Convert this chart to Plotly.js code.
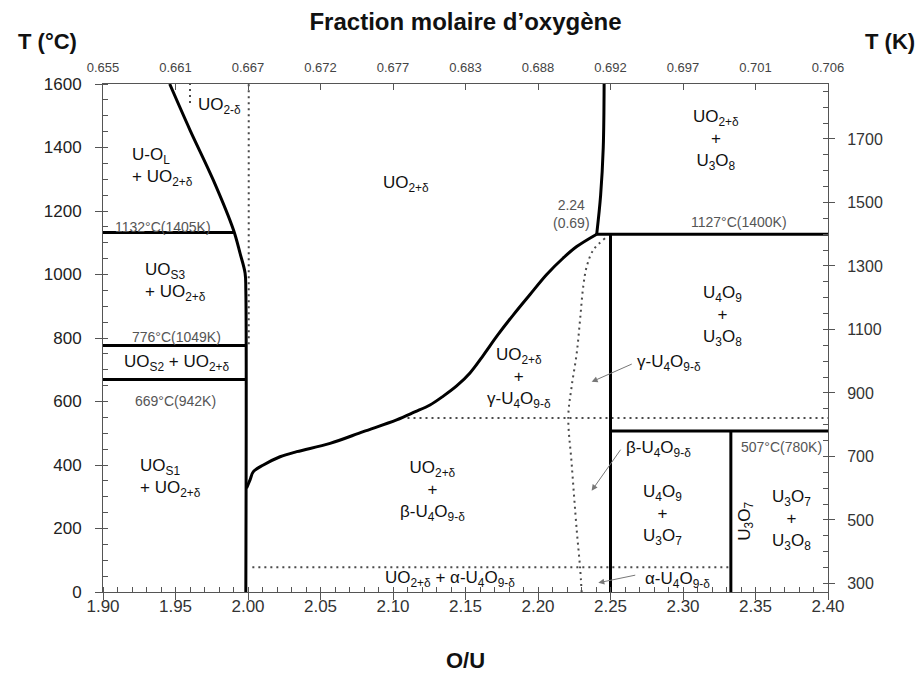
<!DOCTYPE html>
<html><head><meta charset="utf-8">
<script src="https://cdn.plot.ly/plotly-3.0.1.min.js"></script>
<style>html,body{margin:0;padding:0;background:#fff}</style>
</head><body><div id="chart" style="width:923px;height:673px"></div>
<script>
// ---------- DATA (O/U ratio vs temperature °C) ----------
const xTicks = [1.90, 1.95, 2.00, 2.05, 2.10, 2.15, 2.20, 2.25, 2.30, 2.35, 2.40];
const xTickText = ['1.90','1.95','2.00','2.05','2.10','2.15','2.20','2.25','2.30','2.35','2.40'];
const fracTickText = ['0.655','0.661','0.667','0.672','0.677','0.683','0.688','0.692','0.697','0.701','0.706'];
const kTicks = [300, 500, 700, 900, 1100, 1300, 1500, 1700];

// solid boundaries
const liquidusX = [1.946, 1.960, 1.976, 1.990, 1.9945, 1.998, 1.9985, 1.9985];
const liquidusT = [1600, 1455, 1298, 1140, 1067, 1004, 950, 0];
const uo2BoundX = [1.9990, 2.0014, 2.0037, 2.0106, 2.0221, 2.0336, 2.0566, 2.0795, 2.1025, 2.1150, 2.1255, 2.1347, 2.1439, 2.1531, 2.1625, 2.1720, 2.1830, 2.1945, 2.2060, 2.2174, 2.2267, 2.2405];
const uo2BoundT = [327, 353, 379, 400, 426, 442, 468, 505, 542, 567, 589, 617, 649, 690, 747, 808, 873, 937, 1000, 1052, 1088, 1127];
const upperBoundX = [2.2405, 2.2432, 2.2450, 2.2456];
const upperBoundT = [1127, 1250, 1400, 1600];
const line1132X = [1.90, 1.990];   const line1132T = [1132, 1132];
const line776X  = [1.90, 1.9985];  const line776T  = [776, 776];
const line669X  = [1.90, 1.9985];  const line669T  = [669, 669];
const line1127X = [2.2405, 2.40];  const line1127T = [1127, 1127];
const line507X  = [2.25, 2.40];    const line507T  = [507, 507];
const u4o9X = [2.25, 2.25];        const u4o9T = [0, 1127];
const u3o7X = [2.333, 2.333];      const u3o7T = [0, 507];

// dotted boundaries
const dotA_X = [1.960, 1.960];     const dotA_T = [1540, 1600];
const dotB_X = [2.0005, 2.0005];   const dotB_T = [780, 1600];
const dot548X = [2.11, 2.40];      const dot548T = [548, 548];
const dot78X = [2.003, 2.333];     const dot78T = [78, 78];
const u4o9LowX = [2.2462, 2.2381, 2.2336, 2.2312, 2.2290, 2.2267, 2.2232, 2.2209, 2.2232, 2.2267, 2.2290, 2.2301];
const u4o9LowT = [1114, 1077, 1025, 962, 857, 752, 647, 552, 405, 195, 78, 0];

// phase labels
const phaseText = [
  'UO<sub>2-δ</sub>',
  'UO<sub>2+δ</sub>',
  'UO<sub>S2</sub> + UO<sub>2+δ</sub>',
  'UO<sub>2+δ</sub><br>+<br>γ-U<sub>4</sub>O<sub>9-δ</sub>',
  'UO<sub>2+δ</sub><br>+<br>β-U<sub>4</sub>O<sub>9-δ</sub>',
  'UO<sub>2+δ</sub> + α-U<sub>4</sub>O<sub>9-δ</sub>',
  'γ-U<sub>4</sub>O<sub>9-δ</sub>',
  'β-U<sub>4</sub>O<sub>9-δ</sub>',
  'α-U<sub>4</sub>O<sub>9-δ</sub>',
  'UO<sub>2+δ</sub><br>+<br>U<sub>3</sub>O<sub>8</sub>',
  'U<sub>4</sub>O<sub>9</sub><br>+<br>U<sub>3</sub>O<sub>8</sub>',
  'U<sub>4</sub>O<sub>9</sub><br>+<br>U<sub>3</sub>O<sub>7</sub>',
  'U<sub>3</sub>O<sub>7</sub><br>+<br>U<sub>3</sub>O<sub>8</sub>'
];
const phaseX = [1.980, 2.109, 1.951, 2.187, 2.127, 2.139, 2.290, 2.283, 2.296, 2.323, 2.327, 2.286, 2.375];
const phaseT = [1530, 1285, 722, 674, 318, 41, 721, 450, 38, 1424, 869, 243, 227];

const leftText = ['U-O<sub>L</sub><br>+ UO<sub>2+δ</sub>', 'UO<sub>S3</sub><br>+ UO<sub>2+δ</sub>', 'UO<sub>S1</sub><br>+ UO<sub>2+δ</sub>'];
const leftX = [1.9186, 1.9276, 1.9241];
const leftT = [1339, 976, 359];

const rotText = ['U<sub>3</sub>O<sub>7</sub>'];
const rotX = [2.3433];
const rotT = [224];

const noteText = ['1132°C(1405K)', '776°C(1049K)', '669°C(942K)', '1127°C(1400K)', '507°C(780K)', '2.24<br>(0.69)'];
const noteX = [1.9416, 1.9508, 1.9497, 2.3386, 2.368, 2.2231];
const noteT = [1150, 802, 602, 1164, 458, 1190];

const arrowTailX = [2.2657, 2.2577, 2.2681];
const arrowTailT = [720, 453, 54];
const arrowHeadX = [2.2370, 2.2370, 2.2416];
const arrowHeadT = [662, 319, 29];

// ---------- DRAW ----------
const FONT = 'Liberation Sans, Arial, Helvetica, sans-serif';
function solid(x, y, shape) {
  return {x: x, y: y, mode: 'lines', line: {color: '#000', width: 3, shape: shape || 'linear', smoothing: 1}, hoverinfo: 'skip', showlegend: false};
}
function dotted(x, y, shape) {
  return {x: x, y: y, mode: 'lines', line: {color: '#4a4a4a', width: 2, dash: '2px,4px', shape: shape || 'linear', smoothing: 1}, hoverinfo: 'skip', showlegend: false};
}
const traces = [
  dotted(dotA_X, dotA_T), dotted(dotB_X, dotB_T), dotted(dot548X, dot548T), dotted(dot78X, dot78T),
  dotted(u4o9LowX, u4o9LowT, 'spline'),
  solid(liquidusX, liquidusT, 'spline'), solid(uo2BoundX, uo2BoundT, 'spline'), solid(upperBoundX, upperBoundT, 'spline'),
  solid(line1132X, line1132T), solid(line776X, line776T), solid(line669X, line669T),
  solid(line1127X, line1127T), solid(line507X, line507T), solid(u4o9X, u4o9T), solid(u3o7X, u3o7T),
  {x: [xTicks[0], xTicks[xTicks.length - 1]], y: [273.15, 1873.15], xaxis: 'x2', yaxis: 'y2', mode: 'markers', marker: {opacity: 0}, hoverinfo: 'skip', showlegend: false}
];

const annotations = [];
phaseText.forEach((t, i) => annotations.push({x: phaseX[i], y: phaseT[i], xref: 'x', yref: 'y', text: t, showarrow: false, font: {family: FONT, size: 17, color: '#111'}, align: 'center'}));
leftText.forEach((t, i) => annotations.push({x: leftX[i], y: leftT[i], xref: 'x', yref: 'y', text: t, showarrow: false, xanchor: 'left', align: 'left', font: {family: FONT, size: 17, color: '#111'}}));
rotText.forEach((t, i) => annotations.push({x: rotX[i], y: rotT[i], xref: 'x', yref: 'y', text: t, showarrow: false, textangle: -90, font: {family: FONT, size: 17, color: '#111'}}));
noteText.forEach((t, i) => annotations.push({x: noteX[i], y: noteT[i], xref: 'x', yref: 'y', text: t, showarrow: false, font: {family: FONT, size: 14, color: '#555'}}));
arrowHeadX.forEach((hx, i) => annotations.push({x: hx, y: arrowHeadT[i], ax: arrowTailX[i], ay: arrowTailT[i], xref: 'x', yref: 'y', axref: 'x', ayref: 'y', text: '', showarrow: true, arrowhead: 2, arrowsize: 1.2, arrowwidth: 1, arrowcolor: '#777'}));
annotations.push({x: -0.077, y: 1.083, xref: 'paper', yref: 'paper', xanchor: 'center', yanchor: 'middle', text: '<b>T (°C)</b>', showarrow: false, font: {family: FONT, size: 22, color: '#111'}});
annotations.push({x: 1.086, y: 1.083, xref: 'paper', yref: 'paper', xanchor: 'center', yanchor: 'middle', text: '<b>T (K)</b>', showarrow: false, font: {family: FONT, size: 22, color: '#111'}});

const axCommon = {showgrid: false, zeroline: false, showline: true, linecolor: '#555', linewidth: 1, tickcolor: '#555', tickwidth: 1};
const layout = {
  width: 923, height: 673,
  margin: {l: 103, r: 95, t: 84, b: 81},
  paper_bgcolor: '#fff', plot_bgcolor: '#fff',
  showlegend: false,
  font: {family: FONT},
  xaxis: Object.assign({}, axCommon, {
    range: [1.90, 2.40], tickmode: 'array', tickvals: xTicks, ticktext: xTickText,
    ticks: 'outside', ticklen: 7, ticklabelstandoff: -8,
    tickfont: {family: FONT, size: 17, color: '#333'},
    minor: {tickmode: 'linear', tick0: 1.90, dtick: 0.01, ticks: 'inside', ticklen: 5, tickcolor: '#555', showgrid: false},
    title: {text: '<b>O/U</b>', font: {family: FONT, size: 22, color: '#111'}, standoff: 37}
  }),
  xaxis2: Object.assign({}, axCommon, {
    overlaying: 'x', side: 'top', range: [1.90, 2.40], tickmode: 'array', tickvals: xTicks, ticktext: fracTickText,
    ticks: 'inside', ticklen: 6, ticklabelstandoff: 6,
    tickfont: {family: FONT, size: 13, color: '#444'},
    title: {text: '<b>Fraction molaire d’oxygène</b>', font: {family: FONT, size: 24, color: '#111'}, standoff: 22}
  }),
  yaxis: Object.assign({}, axCommon, {
    range: [0, 1600], tickmode: 'linear', tick0: 0, dtick: 200,
    ticks: 'outside', ticklen: 7, ticklabelstandoff: 10,
    tickfont: {family: FONT, size: 17, color: '#222'},
    minor: {tickmode: 'linear', tick0: 0, dtick: 50, ticks: 'inside', ticklen: 5, tickcolor: '#555', showgrid: false}
  }),
  yaxis2: Object.assign({}, axCommon, {
    overlaying: 'y', side: 'right', range: [273.15, 1873.15], tickmode: 'array', tickvals: kTicks,
    ticks: 'outside', ticklen: 6, ticklabelstandoff: 9,
    tickfont: {family: FONT, size: 16, color: '#333'},
    minor: {tickmode: 'linear', tick0: 300, dtick: 50, ticks: 'inside', ticklen: 5, tickcolor: '#555', showgrid: false}
  }),
  annotations: annotations
};
Plotly.newPlot('chart', traces, layout, {staticPlot: true, displayModeBar: false});
</script></body></html>
